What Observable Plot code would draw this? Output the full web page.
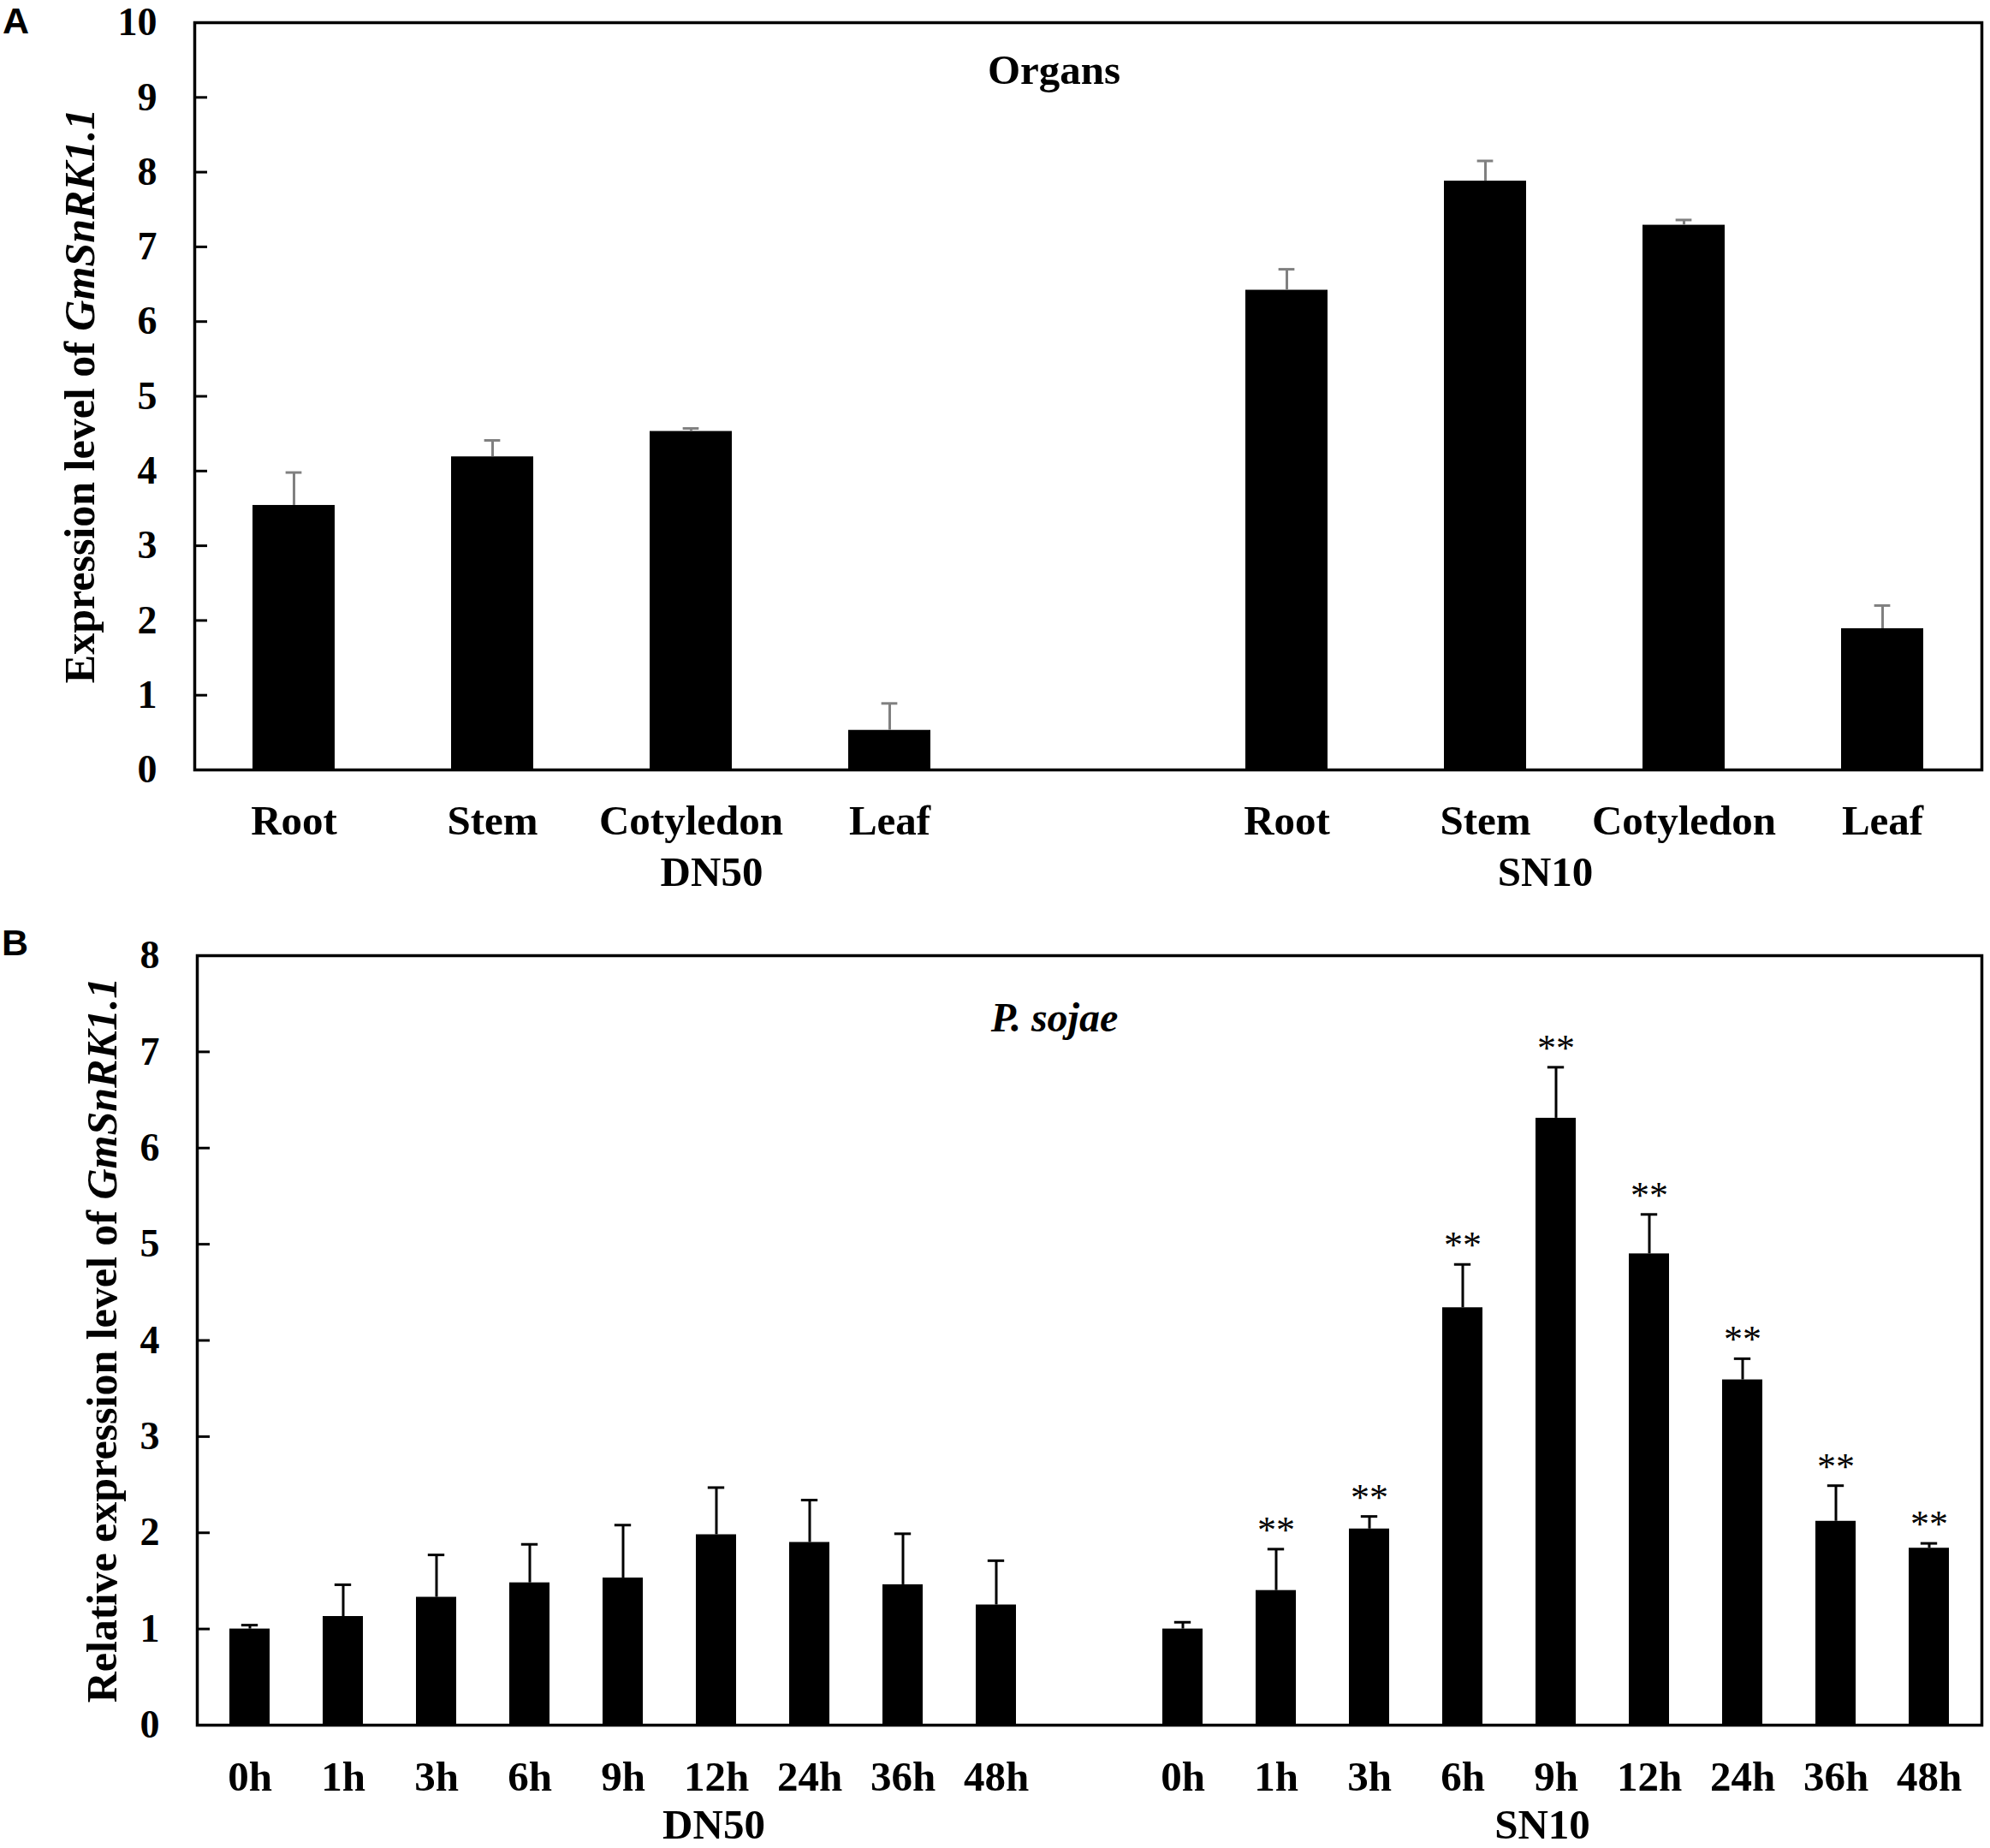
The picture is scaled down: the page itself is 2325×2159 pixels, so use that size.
<!DOCTYPE html>
<html>
<head>
<meta charset="utf-8">
<script src="https://cdn.jsdelivr.net/npm/d3@7"></script>
<script src="https://cdn.jsdelivr.net/npm/@observablehq/plot@0.6"></script>
<style>
  html, body { margin: 0; padding: 0; background: #fff; }
  #page { position: relative; width: 2325px; height: 2159px; overflow: hidden; background: #fff; }
  .panel { position: absolute; left: 0; }
  .plabel { position: absolute; font-family: "Liberation Sans", Arial, sans-serif; font-weight: bold; font-size: 43px; line-height: 0.8; }
</style>
</head>
<body>
<div id="page">
  <div class="panel" id="panelA" style="top:0px"></div>
  <div class="panel" id="panelB" style="top:1080px"></div>
  <div class="plabel" style="left:3px; top:7px">A</div>
  <div class="plabel" style="left:2px; top:1084px">B</div>
</div>
<script>
// ---------- data ----------
const groups = ["DN50", "SN10"];
const organs = ["Root", "Stem", "Cotyledon", "Leaf"];
const organDN50 = [3.54, 4.19, 4.53, 0.53];
const organDN50Err = [0.44, 0.22, 0.04, 0.36];
const organSN10 = [6.42, 7.88, 7.29, 1.89];
const organSN10Err = [0.28, 0.27, 0.07, 0.31];
const organTicks = [0, 1, 2, 3, 4, 5, 6, 7, 8, 9, 10];

const times = ["0h", "1h", "3h", "6h", "9h", "12h", "24h", "36h", "48h"];
const psDN50 = [1.00, 1.13, 1.33, 1.48, 1.53, 1.98, 1.90, 1.46, 1.25];
const psDN50Err = [0.04, 0.33, 0.44, 0.40, 0.55, 0.49, 0.44, 0.53, 0.46];
const psSN10 = [1.00, 1.40, 2.04, 4.34, 6.31, 4.90, 3.59, 2.12, 1.84];
const psSN10Err = [0.07, 0.43, 0.13, 0.45, 0.53, 0.41, 0.22, 0.37, 0.05];
const psSN10Sig = ["", "**", "**", "**", "**", "**", "**", "**", "**"];
const psTicks = [0, 1, 2, 3, 4, 5, 6, 7, 8];

// ---------- helpers ----------
const SERIF = "Liberation Serif, Times New Roman, serif";
const GAP = "gap";
function build(cats, vals, errs, sigs) {
  const rows = [];
  groups.forEach((g, gi) => {
    cats.forEach((c, i) => {
      rows.push({group: g, cat: c, key: g + "|" + c, value: vals[gi][i], err: errs[gi][i], sig: sigs ? (sigs[gi][i] || "") : ""});
    });
  });
  return rows;
}
function domainOf(cats) {
  return [...cats.map(c => groups[0] + "|" + c), GAP, ...cats.map(c => groups[1] + "|" + c)];
}
const fmt = d => d === GAP ? "" : d.split("|")[1];

function yTitle(svg, x, y, plain, italic) {
  const t = d3.select(svg).append("text")
    .attr("transform", `translate(${x},${y}) rotate(-90)`)
    .attr("text-anchor", "middle")
    .attr("font-family", SERIF)
    .attr("font-size", 50)
    .attr("font-weight", "bold")
    .attr("fill", "black");
  t.append("tspan").text(plain);
  t.append("tspan").attr("font-style", "italic").text(italic);
}

// ---------- panel A ----------
{
  const W = 2325, H = 1080, mL = 227, mR = 10, mT = 26, mB = 181;
  const frameW = W - mL - mR;
  const pad = 0.585;
  const step = frameW / 9;
  const bw = step * (1 - pad);
  const capInset = (bw - 19) / 2;
  const data = build(organs, [organDN50, organSN10], [organDN50Err, organSN10Err]);
  const svg = Plot.plot({
    width: W, height: H,
    marginLeft: mL, marginRight: mR, marginTop: mT, marginBottom: mB,
    style: {background: "white", fontFamily: SERIF},
    x: {type: "band", domain: domainOf(organs), paddingInner: pad, paddingOuter: pad / 2},
    y: {domain: [0, 10]},
    marks: [
      Plot.barY(data, {x: "key", y: "value", fill: "black"}),
      Plot.ruleX(data, {x: "key", y1: "value", y2: d => d.value + d.err, stroke: "#808080", strokeWidth: 3}),
      Plot.tickY(data, {x: "key", y: d => d.value + d.err, stroke: "#808080", strokeWidth: 3, insetLeft: capInset, insetRight: capInset}),
      Plot.tickY(organTicks, {y: d => d, stroke: "black", strokeWidth: 3, insetRight: frameW - 15}),
      Plot.axisY({ticks: organTicks, tickSize: 0, tickPadding: 44, tickFormat: d => String(d), label: null,
        fontSize: 46, fontWeight: "bold", fontFamily: SERIF, fill: "black"}),
      Plot.axisX({tickSize: 0, tickPadding: 41, tickFormat: fmt, label: null,
        fontSize: 49, fontWeight: "bold", fontFamily: SERIF, fill: "black"}),
      Plot.text([groups[0]], {x: () => groups[0] + "|Cotyledon", text: d => d, frameAnchor: "bottom", lineAnchor: "bottom", dy: 135, dx: 24,
        fontSize: 49, fontWeight: "bold", fontFamily: SERIF, fill: "black"}),
      Plot.text([groups[1]], {x: () => groups[1] + "|Stem", text: d => d, frameAnchor: "bottom", lineAnchor: "bottom", dy: 135, dx: 70,
        fontSize: 49, fontWeight: "bold", fontFamily: SERIF, fill: "black"}),
      Plot.text(["Organs"], {text: d => d, frameAnchor: "top", lineAnchor: "bottom", dx: -40, dy: 71,
        fontSize: 49, fontWeight: "bold", fontFamily: SERIF, fill: "black"}),
      Plot.frame({stroke: "black", strokeWidth: 3.5})
    ]
  });
  yTitle(svg, 110, (mT + (H - mB)) / 2, "Expression level of ", "GmSnRK1.1");
  document.getElementById("panelA").appendChild(svg);
}

// ---------- panel B ----------
{
  const W = 2325, H = 1079, mL = 230, mR = 10, mT = 36, mB = 144;
  const frameW = W - mL - mR;
  const pad = 0.566;
  const step = frameW / 19;
  const bw = step * (1 - pad);
  const capInset = (bw - 20) / 2;
  const data = build(times, [psDN50, psSN10], [psDN50Err, psSN10Err], [[], psSN10Sig]);
  const svg = Plot.plot({
    width: W, height: H,
    marginLeft: mL, marginRight: mR, marginTop: mT, marginBottom: mB,
    style: {background: "white", fontFamily: SERIF},
    x: {type: "band", domain: domainOf(times), paddingInner: pad, paddingOuter: pad / 2},
    y: {domain: [0, 8]},
    marks: [
      Plot.barY(data, {x: "key", y: "value", fill: "black"}),
      Plot.ruleX(data, {x: "key", y1: "value", y2: d => d.value + d.err, stroke: "black", strokeWidth: 3}),
      Plot.tickY(data, {x: "key", y: d => d.value + d.err, stroke: "black", strokeWidth: 3, insetLeft: capInset, insetRight: capInset}),
      Plot.text(data.filter(d => d.sig), {x: "key", y: d => d.value + d.err, text: "sig", lineAnchor: "bottom", dy: -8,
        fontSize: 44, fontWeight: "normal", fontFamily: SERIF, fill: "black"}),
      Plot.tickY(psTicks, {y: d => d, stroke: "black", strokeWidth: 3, insetRight: frameW - 15}),
      Plot.axisY({ticks: psTicks, tickSize: 0, tickPadding: 44, tickFormat: d => String(d), label: null,
        fontSize: 46, fontWeight: "bold", fontFamily: SERIF, fill: "black"}),
      Plot.axisX({tickSize: 0, tickPadding: 42, tickFormat: fmt, label: null,
        fontSize: 49, fontWeight: "bold", fontFamily: SERIF, fill: "black"}),
      Plot.text([groups[0]], {x: () => groups[0] + "|12h", text: d => d, frameAnchor: "bottom", lineAnchor: "bottom", dy: 132, dx: -3,
        fontSize: 49, fontWeight: "bold", fontFamily: SERIF, fill: "black"}),
      Plot.text([groups[1]], {x: () => groups[1] + "|9h", text: d => d, frameAnchor: "bottom", lineAnchor: "bottom", dy: 132, dx: -16,
        fontSize: 49, fontWeight: "bold", fontFamily: SERIF, fill: "black"}),
      Plot.text(["P. sojae"], {text: d => d, frameAnchor: "top", lineAnchor: "bottom", dx: -41, dy: 88,
        fontSize: 48, fontWeight: "bold", fontStyle: "italic", fontFamily: SERIF, fill: "black"}),
      Plot.frame({stroke: "black", strokeWidth: 3.5})
    ]
  });
  yTitle(svg, 136, (mT + (H - mB)) / 2, "Relative expression level of ", "GmSnRK1.1");
  document.getElementById("panelB").appendChild(svg);
}
</script>
</body>
</html>
